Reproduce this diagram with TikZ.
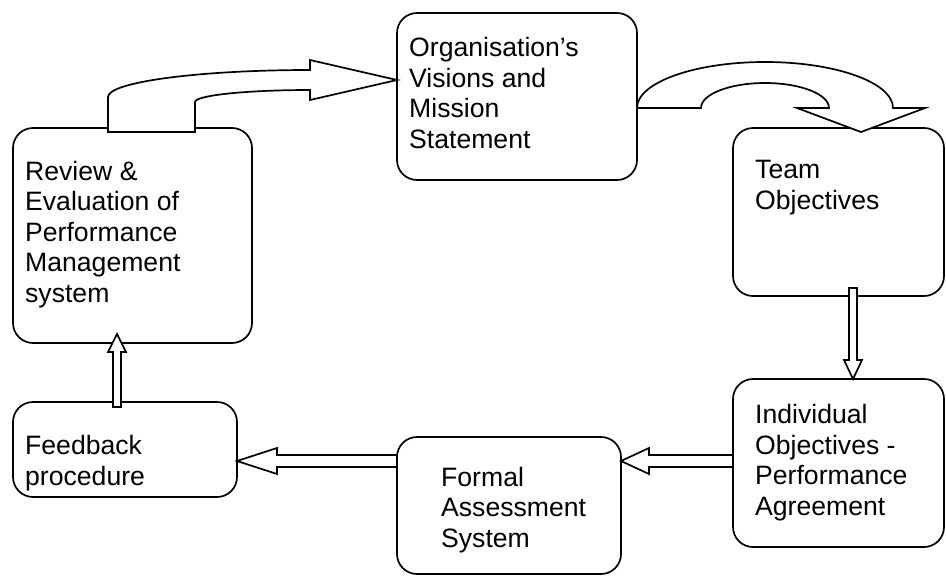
\documentclass[tikz,border=0pt]{standalone}
\usepackage{fontspec}
\setmainfont{Liberation Sans}
\usetikzlibrary{calc}
\begin{document}
\begin{tikzpicture}[x=1pt,y=-1pt,
  stagebox/.style={draw, line width=1.7pt, rounded corners=20pt, inner sep=0pt, outer sep=0pt},
  blockarrow/.style={draw, fill=white, line width=1.7pt, line join=miter},
  label/.style={anchor=base west, align=left, inner sep=0pt,
    font=\fontsize{26.6pt}{30.5pt}\selectfont}]
\useasboundingbox (0,0) rectangle (946,576);

% stage boxes
\node[stagebox, minimum width=240pt, minimum height=167pt] (org)    at (517,96.5) {};
\node[stagebox, minimum width=211pt, minimum height=168pt] (team)   at (838.5,212) {};
\node[stagebox, minimum width=211pt, minimum height=168pt] (indiv)  at (838.5,463) {};
\node[stagebox, minimum width=224pt, minimum height=137pt] (formal) at (509,505.5) {};
\node[stagebox, minimum width=224pt, minimum height=95pt]  (feed)   at (125,449.5) {};
\node[stagebox, minimum width=239pt, minimum height=215pt] (review) at (132.5,235.5) {};

% curved arrow: review -> organisation
\draw[blockarrow] (108,132) -- (108,97)
  arc[start angle=180, end angle=90, x radius=202pt, y radius=27pt]
  -- (310,60) -- (org.west |- 0,80) -- (310,100) -- (310,90)
  arc[start angle=90, end angle=180, x radius=115pt, y radius=12pt]
  -- (195,132) -- cycle;

% curved arrow: organisation -> team
\draw[blockarrow] (org.east |- 0,108)
  arc[start angle=180, end angle=0, x radius=128pt, y radius=46pt]
  -- (925,108) -- (861,132) -- (797,108) -- (829,108)
  arc[start angle=0, end angle=180, x radius=64pt, y radius=25pt]
  -- cycle;

% straight arrow: team -> individual
\draw[blockarrow] (849,288) -- (849,360) -- (844,360) -- (853,0 |- indiv.north)
  -- (862,360) -- (857,360) -- (857,288) -- cycle;

% straight arrow: individual -> formal assessment
\draw[blockarrow] (indiv.west |- 0,455) -- (649,455) -- (649,448)
  -- (formal.east |- 0,461) -- (649,474) -- (649,467) -- (indiv.west |- 0,467) -- cycle;

% straight arrow: formal assessment -> feedback
\draw[blockarrow] (formal.west |- 0,455) -- (277,455) -- (277,448)
  -- (feed.east |- 0,461) -- (277,474) -- (277,467) -- (formal.west |- 0,467) -- cycle;

% straight arrow: feedback -> review
\draw[blockarrow] (113,407) -- (113,352) -- (108,352) -- (117,334)
  -- (126,352) -- (121,352) -- (121,407) -- cycle;

% stage labels (placed by the baseline of their last line)
\node[label] (orgtext)    at (409,148) {Organisation’s\\Visions and\\Mission\\Statement};
\node[label] (teamtext)   at (755,209) {Team\\Objectives};
\node[label] (indivtext)  at (755,515) {Individual\\Objectives -\\Performance\\Agreement};
\node[label] (formaltext) at (441,547) {Formal\\Assessment\\System};
\node[label] (feedtext)   at (25,485)  {Feedback\\procedure};
\node[label] (reviewtext) at (25,302)  {Review \&\\Evaluation of\\Performance\\Management\\system};
\end{tikzpicture}
\end{document}
